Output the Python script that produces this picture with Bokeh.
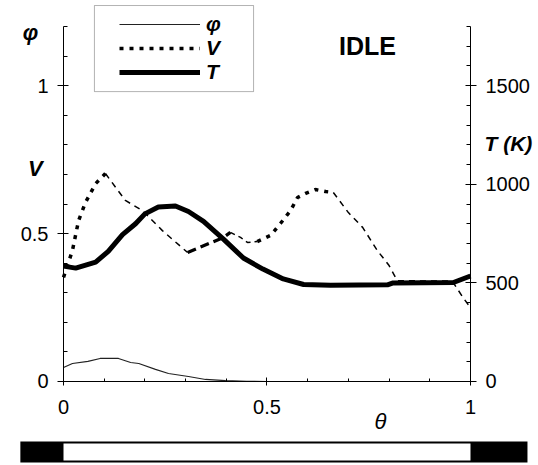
from bokeh.plotting import figure
from bokeh.models import Range1d, LinearAxis, FixedTicker, Legend, LegendItem, Label, BoxAnnotation
from bokeh.embed import file_html
from bokeh.resources import INLINE

# ---------------- data ----------------
theta_phi = [0.0, 0.022, 0.06, 0.09, 0.135, 0.165, 0.185, 0.226, 0.258, 0.307, 0.349, 0.398, 0.45, 0.5]
phi = [0.047, 0.061, 0.068, 0.078, 0.078, 0.064, 0.061, 0.041, 0.027, 0.017, 0.007, 0.003, 0.001, 0.0]

theta_V = [0.0, 0.022, 0.037, 0.054, 0.079, 0.103, 0.152, 0.194, 0.243, 0.305, 0.393, 0.41,
           0.435, 0.452, 0.476, 0.509, 0.533, 0.558, 0.575, 0.595, 0.619, 0.644, 0.663, 0.70,
           0.735, 0.771, 0.80, 0.82, 0.88, 0.955, 0.983, 1.0]
V = [0.352, 0.443, 0.544, 0.605, 0.669, 0.703, 0.612, 0.578, 0.510, 0.436, 0.487, 0.504,
     0.487, 0.470, 0.473, 0.494, 0.534, 0.578, 0.622, 0.636, 0.649, 0.642, 0.639, 0.571,
     0.521, 0.443, 0.392, 0.341, 0.340, 0.340, 0.281, 0.250]

theta_T = [0.0, 0.03, 0.079, 0.11, 0.145, 0.177, 0.2, 0.233, 0.275, 0.307, 0.344, 0.393,
           0.442, 0.49, 0.54, 0.59, 0.656, 0.796, 0.81, 0.958, 1.0]
T = [585, 575, 605, 660, 745, 800, 850, 885, 890, 862, 812, 722,
     626, 570, 520, 492, 488, 490, 500, 502, 535]

x_ticks = [0, 0.5, 1]
x_tick_labels = ["0", "0.5", "1"]
left_ticks = [0, 0.5, 1]
left_tick_labels = ["0", "0.5", "1"]
right_ticks = [0, 500, 1000, 1500]
right_tick_labels = ["0", "500", "1000", "1500"]

# phase bar below the chart
bar_start = [-0.106, 0.0, 1.0]
bar_end = [0.0, 1.0, 1.14]
bar_color = ["black", "white", "black"]

FONT = "Liberation Sans"

# one frame covering the whole canvas; axes are pinned with fixed_location
p = figure(width=538, height=465, x_range=Range1d(-0.1548, 1.1671), y_range=Range1d(-0.284, 1.288),
           output_backend="svg", toolbar_location=None,
           x_axis_location=None, y_axis_location=None,
           min_border_left=0, min_border_right=0, min_border_top=0, min_border_bottom=0)
p.outline_line_color = None
p.grid.visible = False
p.background_fill_color = "white"
p.border_fill_color = "white"
p.extra_y_ranges = {"T": Range1d(-426, 1932)}

def style_axis(ax, tin, tout, minin, standoff):
    ax.axis_line_color = "black"
    ax.major_tick_line_color = "black"
    ax.minor_tick_line_color = "black"
    ax.major_tick_in = tin
    ax.major_tick_out = tout
    ax.minor_tick_in = minin
    ax.minor_tick_out = 0
    ax.major_label_standoff = standoff
    ax.major_label_text_font = FONT
    ax.major_label_text_font_size = "20px"
    ax.major_label_text_color = "black"

xaxis = LinearAxis(fixed_location=0, bounds=(0, 1),
                   ticker=FixedTicker(ticks=x_ticks, minor_ticks=[i / 10 for i in range(11)]),
                   major_label_overrides=dict(zip(x_ticks, x_tick_labels)))
style_axis(xaxis, 4, 4, 3, 15)
p.add_layout(xaxis, "below")

laxis = LinearAxis(fixed_location=0, bounds=(0, 1.2),
                   ticker=FixedTicker(ticks=left_ticks, minor_ticks=[i / 10 for i in range(13)]),
                   major_label_overrides=dict(zip(left_ticks, left_tick_labels)))
style_axis(laxis, 5, 6, 4, 9)
p.add_layout(laxis, "left")

raxis = LinearAxis(fixed_location=1, y_range_name="T", bounds=(0, 1800),
                   ticker=FixedTicker(ticks=right_ticks, minor_ticks=[i * 100 for i in range(19)]),
                   major_label_overrides=dict(zip(right_ticks, right_tick_labels)))
style_axis(raxis, 5, 6, 4, 9)
p.add_layout(raxis, "right")

# phase bar
p.quad(left=[bar_start[0]], right=[bar_end[-1]], bottom=-0.274, top=-0.203,
       fill_color="black", line_color=None)
ws = [i for i, c in enumerate(bar_color) if c == "white"]
p.quad(left=[bar_start[i] for i in ws], right=[bar_end[i] for i in ws], bottom=-0.267, top=-0.210,
       fill_color="white", line_color=None)

# phi
r_phi = p.line(theta_phi, phi, line_color="#222222", line_width=1.1)

# V drawn piecewise with alternating styles, as in the original
segments = [(0, 5, 3.5, "4 6"), (5, 9, 1.5, "6 5"), (9, 11, 3.2, "9 5"),
            (11, 14, 1.5, "5 4"), (14, 22, 3.5, "4 6"), (22, len(V) - 1, 1.5, "6 5")]
v_renderers = []
for a, b, w, d in segments:
    r = p.line(theta_V[a:b + 1], V[a:b + 1], line_color="black", line_width=w, line_dash=d)
    v_renderers.append(r)

# T on right axis
r_T = p.line(theta_T, T, y_range_name="T", line_color="black", line_width=5, line_join="round")

# legend
legend = Legend(items=[LegendItem(label="φ", renderers=[r_phi]),
                       LegendItem(label="V", renderers=[v_renderers[0]]),
                       LegendItem(label="T", renderers=[r_T])],
                location=(119, 381), orientation="vertical",
                glyph_width=81, glyph_height=20, label_height=20, spacing=0, padding=2,
                label_standoff=6, label_text_font=FONT, label_text_font_style="bold italic",
                label_text_font_size="21px", label_text_color="black", border_line_color=None,
                background_fill_alpha=0.0)
p.add_layout(legend)
p.add_layout(BoxAnnotation(left=0.076, right=0.467, top=1.271, bottom=0.980,
                           fill_alpha=0, line_color="black", line_width=1))

def lab(x, y, t, size, style, align="center"):
    p.add_layout(Label(x=x, y=y, text=t, text_font=FONT, text_font_size=size,
                       text_font_style=style, text_align=align, text_baseline="middle",
                       text_color="black"))

lab(-0.081, 1.18, "φ", "22px", "bold italic")
lab(-0.069, 0.72, "V", "22px", "bold italic")
lab(0.747, 1.133, "IDLE", "25px", "bold")
lab(1.152, 0.805, "T (K)", "21px", "bold italic", align="right")
lab(0.779, -0.135, "θ", "22px", "italic")

open("out.html", "w").write(file_html(p, INLINE))
